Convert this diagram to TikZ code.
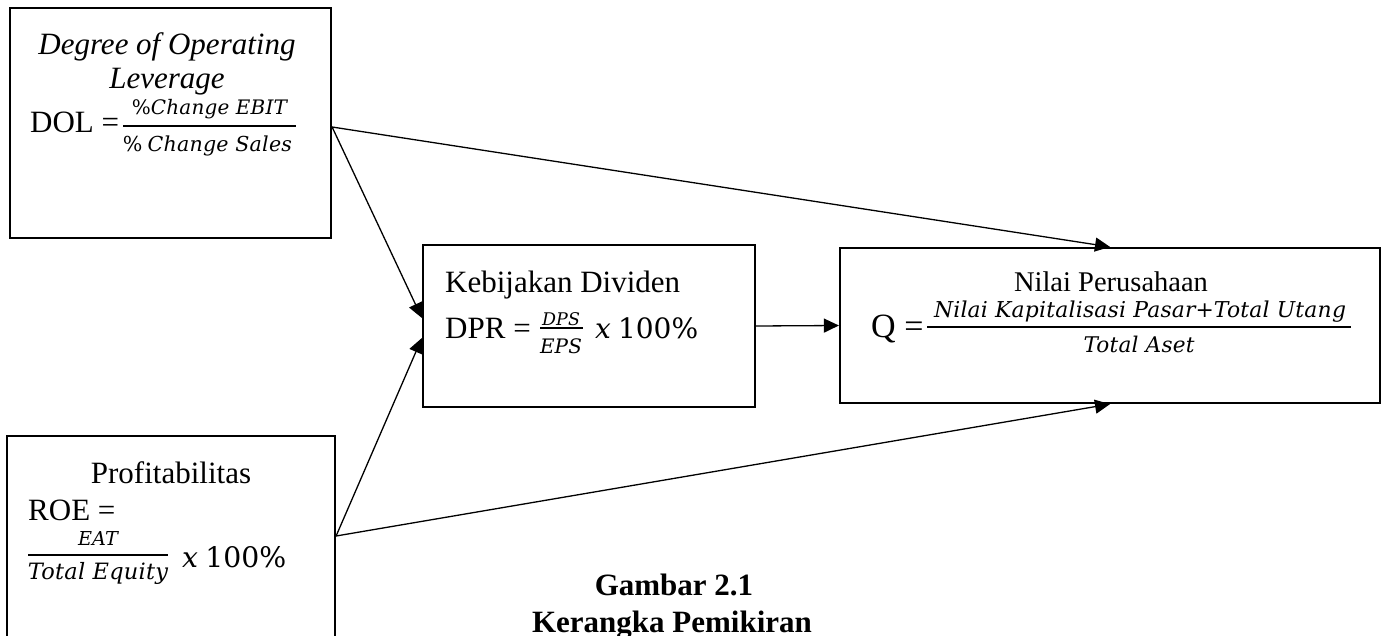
\documentclass[tikz,border=0pt]{standalone}
\usepackage{fontspec}
\setmainfont{Liberation Serif}
\newfontfamily\eqfont[LetterSpace=1]{DejaVu Serif}
\newfontfamily\eqnum{DejaVu Serif}
\newcommand\eqi[1]{{\eqfont\itshape #1}}
\newcommand\equp[1]{{\eqfont #1}}
\usepackage{graphicx}
\usetikzlibrary{arrows.meta,calc}
\tikzset{
  box/.style={draw, line width=2.2pt, inner sep=0pt},
  tx/.style={inner sep=0pt, font=\fontsize{31}{36}\selectfont},
  eq/.style={inner sep=0pt},
  capt/.style={inner sep=0pt, font=\fontsize{31}{36}\selectfont\bfseries},
  conn/.style={line width=1.3pt, -{Triangle[length=15pt,width=14pt]}},
  bar/.style={line width=2.4pt}
}
\begin{document}
\begin{tikzpicture}[x=1pt,y=-1pt]
\useasboundingbox (0,0) rectangle (1383,636);
\fill[white] (0,0) rectangle (1383,636);
\clip (0,0) rectangle (1383,636);

% boxes
\node[box, minimum width=321pt, minimum height=230pt] (b1) at (170.5,123) {};
\node[box, minimum width=332pt, minimum height=162pt] (b2) at (589,326) {};
\node[box, minimum width=540pt, minimum height=155pt] (b3) at (1110,325.5) {};
\node[box, minimum width=328pt, minimum height=209pt] (b4) at (171,540.5) {};

% box 1 text
\node[tx, anchor=base] (t1a) at (167,55) {\itshape Degree of Operating};
\node[tx, anchor=base] (t1b) at (167,89) {\itshape Leverage};
\node[tx, anchor=base west] (t1c) at (30,133) {DOL =};
\node[eq, anchor=base] (n1) at (209.5,115) {\resizebox{155pt}{!}{\equp{\%}\eqi{Change EBIT}}};
\node[eq, anchor=base] (d1) at (207.5,152) {\resizebox{169pt}{!}{\equp{\%} \eqi{Change Sales}}};
\draw[bar] (123,126) -- (296,126);

% box 2 text
\node[tx, anchor=base west] (t2a) at (445,292) {Kebijakan Dividen};
\node[tx, anchor=base west] (t2b) at (445,338) {DPR =};
\node[eq, anchor=base] (n2) at (561,325) {\resizebox{38pt}{!}{\eqi{DPS}}};
\node[eq, anchor=base] (d2) at (561,353) {\resizebox{42pt}{!}{\eqi{EPS}}};
\draw[bar] (540,328) -- (583,328);
\node[eq, anchor=base west] (p2) at (595,338) {\resizebox{103pt}{!}{{\eqnum\itshape x} {\eqnum 100\%}}};

% box 3 text
\node[inner sep=0pt, font=\fontsize{28.5}{34}\selectfont, anchor=base] (t3a) at (1111,291) {Nilai Perusahaan};
\node[inner sep=0pt, font=\fontsize{34}{40}\selectfont, anchor=base west] (t3b) at (871,337) {Q =};
\node[eq, anchor=base] (n3) at (1140,317) {\resizebox{412pt}{!}{\eqi{Nilai Kapitalisasi Pasar}\equp{+}\eqi{Total Utang}}};
\node[eq, anchor=base] (d3) at (1139,352) {\resizebox{111pt}{!}{\eqi{Total Aset}}};
\draw[bar] (927,327) -- (1351,327);

% box 4 text
\node[tx, anchor=base] (t4a) at (171,483) {Profitabilitas};
\node[tx, anchor=base west] (t4b) at (28,520) {ROE =};
\node[eq, anchor=base] (n4) at (98,545) {\resizebox{40pt}{!}{\eqi{EAT}}};
\node[eq, anchor=base] (d4) at (98,579) {\resizebox{140pt}{!}{\eqi{Total Equity}}};
\draw[bar] (28,555) -- (168,555);
\node[eq, anchor=base west] (p4) at (182,567) {\resizebox{104pt}{!}{{\eqnum\itshape x} {\eqnum 100\%}}};

% caption
\node[capt, anchor=base] (c1) at (674,595) {Gambar 2.1};
\node[capt, anchor=base] (c2) at (672,632) {Kerangka Pemikiran};

% connectors
\draw[conn] ($(b1.east)+(0,4)$) -- ($(b2.west)+(0,-8)$);
\draw[conn] ($(b1.east)+(0,4)$) -- (b3.north);
\draw[conn] ($(b4.east)+(0,-4.5)$) -- ($(b2.west)+(0,12)$);
\draw[conn] ($(b4.east)+(0,-4.5)$) -- (b3.south);
\draw[conn] (b2.east) -- (b3.west);
\end{tikzpicture}
\end{document}
